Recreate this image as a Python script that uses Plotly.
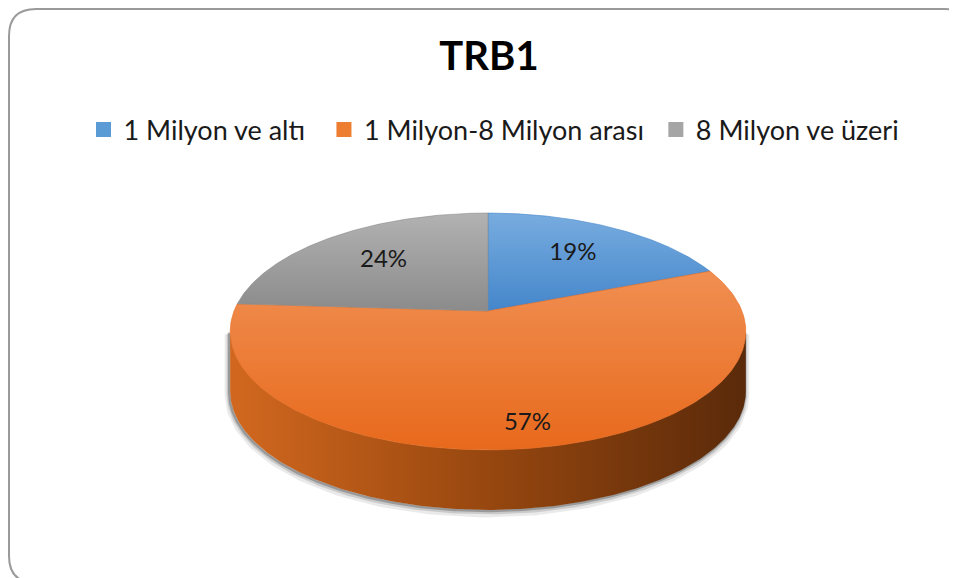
import numpy as np
import plotly.graph_objects as go

# data
labels = ["1 Milyon ve altı", "1 Milyon-8 Milyon arası", "8 Milyon ve üzeri"]
values = [19, 57, 24]

# colours (top face gradient top->bottom, legend swatch)
top_cols = [("#78acdf", "#4486cb"), ("#f08f52", "#e8691c"), ("#b2b2b2", "#8b8b8b")]
leg_cols = ["#5b9bd5", "#ed7d31", "#a5a5a5"]
side_cols = ["#d2681f", "#5a2a0a"]
lab_r = [0.65, 0.85, 0.65]

W, H = 957, 578
OFF = 8  # page body margin, so data coords == screen px
FONT = "Lato, 'Liberation Sans', sans-serif"

# 3d pie projection (pixel space)
CX, CY = 488, 311
F, D = 1310.0, 5.159
tilt = np.radians(26.9)
DROP = 60  # side thickness in px


def proj(X, Y):
    d = D + Y * np.cos(tilt)
    return CX + F * X / d, CY - F * Y * np.sin(tilt) / d


def arc(a0, a1, r=1.0, n=200):
    th = np.linspace(a0, a1, n)
    return proj(r * np.sin(th), r * np.cos(th))


def py_(px):
    # screen y px -> paper fraction
    return 1 - (px - OFF) / (H - OFF)


def px_(px):
    return (px - OFF) / (W - OFF)


tot = sum(values)
cum = np.concatenate([[0], np.cumsum(values)]) / tot * 2 * np.pi

fig = go.Figure()

# side silhouette (front half between the horizontal extremes)
th = np.linspace(0, 2 * np.pi, 3601)
xs, _ = proj(np.sin(th), np.cos(th))
aR, aL = th[np.argmax(xs)], th[np.argmin(xs)]
sx, sy = arc(aR, aL, n=300)
side_x = np.concatenate([sx, sx[::-1], sx[:1]])
side_y = np.concatenate([sy, sy[::-1] + DROP, sy[:1]])

# soft shadow
for w, op, off in [(9, 0.10, 3), (5, 0.18, 2), (2.5, 0.35, 1)]:
    fig.add_trace(go.Scatter(x=side_x - 1, y=side_y + off, mode="lines",
                             line=dict(color="#404040", width=w), opacity=op,
                             hoverinfo="skip", showlegend=False))

fig.add_trace(go.Scatter(x=side_x, y=side_y, fill="toself", mode="lines",
                         line=dict(width=0, color=side_cols[1]),
                         fillgradient=dict(type="horizontal",
                                           colorscale=[[0, side_cols[0]], [0.5, "#97470f"], [1, side_cols[1]]],
                                           start=float(sx.min()), stop=float(sx.max())),
                         hoverinfo="skip", showlegend=False))

# top face slices
for i, lab in enumerate(labels):
    ax, ay = arc(cum[i], cum[i + 1])
    px = np.concatenate([[CX], ax, [CX]])
    py = np.concatenate([[CY], ay, [CY]])
    c0, c1 = top_cols[i]
    fig.add_trace(go.Scatter(x=px, y=py, fill="toself", mode="lines",
                             line=dict(width=0.6, color=c1),
                             fillgradient=dict(type="vertical", colorscale=[[0, c0], [1, c1]],
                                               start=float(py.min()), stop=float(py.max())),
                             name=lab, hoverinfo="name", showlegend=False))

# data labels
lx, ly, lt = [], [], []
for i, v in enumerate(values):
    mid = (cum[i] + cum[i + 1]) / 2
    x, y = proj(lab_r[i] * np.sin(mid), lab_r[i] * np.cos(mid))
    lx.append(x)
    ly.append(y)
    lt.append(f"{round(v / tot * 100)}%")
fig.add_trace(go.Scatter(x=lx, y=ly, text=lt, mode="text",
                         textfont=dict(size=24, color="#1a1a1a", family=FONT),
                         hoverinfo="skip", showlegend=False))

# legend entries (nbsp padding widens the gap between entries)
pads = ["\u00a0\u00a0", "\u00a0", ""]
for lab, c, pad in zip(labels, leg_cols, pads):
    fig.add_trace(go.Scatter(x=[None], y=[None], mode="markers", name=lab + pad,
                             marker=dict(symbol="square", size=15, color=c)))

border = "M 36,9 L 945,9 Q 972,9 972,36 L 972,556 Q 972,583 945,583 L 36,583 Q 9,583 9,556 L 9,36 Q 9,9 36,9 Z"

fig.update_layout(
    width=W - OFF, height=H - OFF,
    margin=dict(l=0, r=0, t=0, b=0),
    paper_bgcolor="white", plot_bgcolor="white",
    xaxis=dict(range=[OFF, W], visible=False, fixedrange=True),
    yaxis=dict(range=[H, OFF], visible=False, fixedrange=True),
    title=dict(text="<b>TRB1</b>", x=px_(489), xanchor="center", y=py_(56), yanchor="middle",
               font=dict(size=40, color="#000000", family=FONT)),
    legend=dict(orientation="h", x=px_(494), xanchor="center", y=py_(130), yanchor="middle",
                font=dict(size=27, color="#1a1a1a", family=FONT)),
    shapes=[dict(type="path", path=border, xref="x", yref="y",
                 line=dict(color="#9a9a9a", width=2), layer="below")],
)

fig.write_html("out.html")
